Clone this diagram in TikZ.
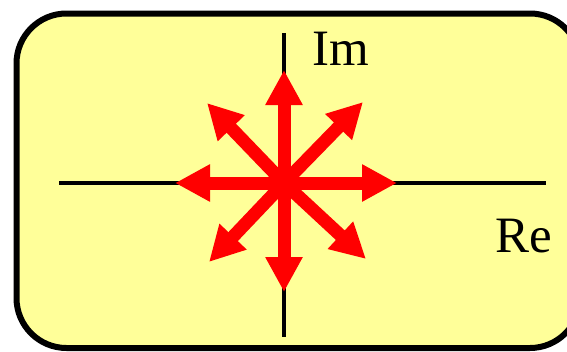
\documentclass[tikz,border=0pt]{standalone}
\usepackage{fontspec}
\setmainfont{Liberation Serif}
\usetikzlibrary{arrows.meta}
\definecolor{paneyellow}{HTML}{FFFF99}
\definecolor{arrowred}{HTML}{FF0000}
\tikzset{
  pane/.style={draw=black,fill=paneyellow,line width=6pt,rounded corners=50pt},
  axis/.style={draw=black,line width=4pt},
  ray/.style={draw=arrowred,line width=13pt,-{Triangle[length=35pt,width=35pt]}},
  lbl/.style={inner sep=0pt,anchor=base west,font=\fontsize{51}{51}\selectfont}
}
\begin{document}
\begin{tikzpicture}[x=1pt,y=-1pt]
\useasboundingbox (0,0) rectangle (567,351);
\path[pane] (16.5,13.5) rectangle (580,348);
\coordinate (xl) at (59,183);
\coordinate (xr) at (546,183);
\coordinate (yt) at (284,33);
\coordinate (yb) at (284,337);
\draw[axis] (xl) -- (xr);
\draw[axis] (yt) -- (yb);
\coordinate (c) at (284,183);
\coordinate (tN) at (284,70);
\coordinate (tS) at (284,292);
\coordinate (tE) at (397,183);
\coordinate (tW) at (175,183);
\coordinate (tNE) at (363,102);
\coordinate (tNW) at (207,103);
\coordinate (tSW) at (209,262);
\coordinate (tSE) at (366,259);
\foreach \t in {tN,tS,tE,tW,tNE,tNW,tSW,tSE}{
  \draw[ray] (c) -- (\t);
}
\node[lbl] (im) at (312,65.7) {Im};
\node[lbl] (re) at (495,252) {Re};
\end{tikzpicture}
\end{document}
